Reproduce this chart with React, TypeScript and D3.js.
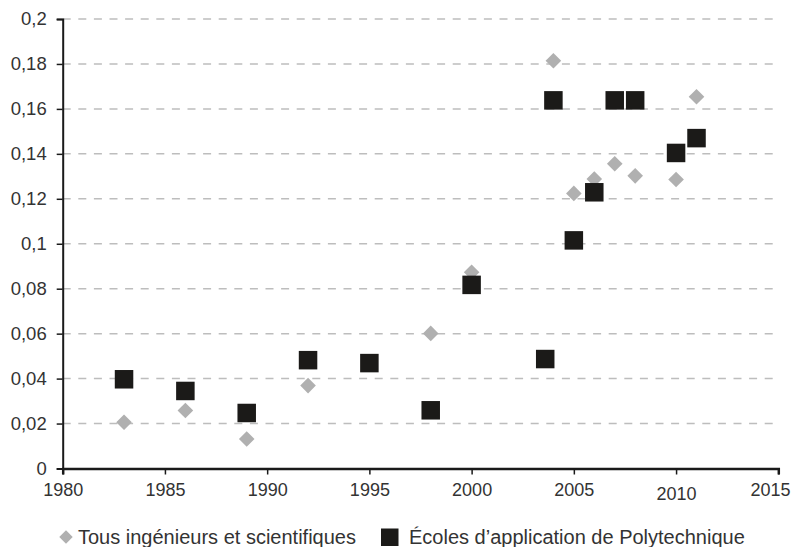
import { useEffect, useRef } from 'react';
import * as d3 from 'd3';

// Tous ingénieurs et scientifiques (gray diamonds)
const allYears = [1983, 1986, 1989, 1992, 1998, 2000, 2004, 2005, 2006, 2007, 2008, 2010, 2011];
const allValues = [0.0206, 0.0258, 0.0131, 0.0369, 0.0601, 0.0873, 0.1814, 0.1224, 0.1288, 0.1356, 0.1302, 0.1286, 0.1654];

// Écoles d'application de Polytechnique (black squares)
const xYears = [1983, 1986, 1989, 1992, 1995, 1998, 2000, 2003.6, 2004, 2005, 2006, 2007, 2008, 2010, 2011];
const xValues = [0.0397, 0.0345, 0.0247, 0.0482, 0.0469, 0.0259, 0.0817, 0.0487, 0.1638, 0.1015, 0.1229, 0.1638, 0.1638, 0.1404, 0.147];

const xTicks = [1980, 1985, 1990, 1995, 2000, 2005, 2010, 2015];
const yTicks = [0, 0.02, 0.04, 0.06, 0.08, 0.1, 0.12, 0.14, 0.16, 0.18, 0.2];

const seriesNames = ['Tous ingénieurs et scientifiques', 'Écoles d\u2019application de Polytechnique'];

const W = 791;
const H = 547;

export default function App() {
  const svgRef = useRef<SVGSVGElement>(null);

  useEffect(() => {
    if (!svgRef.current) return;
    const svg = d3.select(svgRef.current);
    svg.selectAll('*').remove();

    const left = 62.7;
    const right = 778.3;
    const top = 19;
    const bottom = 468.5;

    const x = d3.scaleLinear().domain([1980, 2015]).range([left, right]);
    const y = d3.scaleLinear().domain([0, 0.2]).range([bottom, top]);

    const fmt = (v: number) => (v === 0 ? '0' : String(+v.toFixed(2)).replace('.', ','));

    // gridlines
    svg.append('g')
      .selectAll('line')
      .data(yTicks.filter(t => t > 0))
      .enter()
      .append('line')
      .attr('x1', left)
      .attr('x2', right)
      .attr('y1', d => y(d))
      .attr('y2', d => y(d))
      .attr('stroke', '#bdbdbd')
      .attr('stroke-width', 1.5)
      .attr('stroke-dasharray', '8,7.6');

    // y axis
    const yAxis = svg.append('g')
      .attr('transform', `translate(${left},0)`)
      .call(d3.axisLeft(y).tickValues(yTicks).tickSize(6).tickPadding(10).tickFormat(d => fmt(+d)));
    yAxis.select('.domain').attr('stroke', '#1a1a1a').attr('stroke-width', 2);
    yAxis.selectAll('line').attr('stroke', '#1a1a1a').attr('stroke-width', 1.5);
    yAxis.selectAll('text')
      .attr('font-family', '"Liberation Sans", Arial, sans-serif')
      .attr('font-size', 18.5)
      .attr('fill', '#333');

    // x axis
    const xAxis = svg.append('g')
      .attr('transform', `translate(0,${bottom})`)
      .call(d3.axisBottom(x).tickValues(xTicks).tickSize(6).tickPadding(7).tickFormat(d3.format('d')));
    xAxis.select('.domain').attr('stroke', '#1a1a1a').attr('stroke-width', 2.5);
    xAxis.selectAll('line').attr('stroke', '#1a1a1a').attr('stroke-width', 1.5);
    xAxis.selectAll('text')
      .attr('font-family', '"Liberation Sans Narrow", "Arial Narrow", sans-serif')
      .attr('font-size', 18)
      .attr('fill', '#333')
      .attr('dy', (d: any) => (d === 2010 ? '1.0em' : '0.78em'));
    // last label sits flush against the right edge, as in the original
    xAxis.selectAll<SVGTextElement, number>('text')
      .filter(d => d === 2015)
      .attr('text-anchor', 'end')
      .attr('x', W - 1 - right);

    // diamonds
    const dia = d3.symbol().type(d3.symbolSquare).size(122);
    svg.append('g')
      .selectAll('path')
      .data(allYears.map((yr, i) => ({ yr, v: allValues[i] })))
      .enter()
      .append('path')
      .attr('d', dia)
      .attr('transform', d => `translate(${x(d.yr)},${y(d.v)}) rotate(45)`)
      .attr('fill', '#b0b0b0');

    // squares
    const sq = 18.5;
    svg.append('g')
      .selectAll('rect')
      .data(xYears.map((yr, i) => ({ yr, v: xValues[i] })))
      .enter()
      .append('rect')
      .attr('x', d => x(d.yr) - sq / 2)
      .attr('y', d => y(d.v) - sq / 2)
      .attr('width', sq)
      .attr('height', sq)
      .attr('fill', '#1b1a18');

    // legend
    const lg = svg.append('g');
    lg.append('path')
      .attr('d', d3.symbol().type(d3.symbolSquare).size(90))
      .attr('transform', 'translate(66,537) rotate(45)')
      .attr('fill', '#b0b0b0');
    lg.append('text')
      .attr('x', 78)
      .attr('y', 544)
      .attr('font-family', '"Liberation Sans", Arial, sans-serif')
      .attr('font-size', 20)
      .attr('fill', '#333')
      .text(seriesNames[0]);
    lg.append('rect')
      .attr('x', 381)
      .attr('y', 528.5)
      .attr('width', 17.5)
      .attr('height', 17.5)
      .attr('fill', '#1b1a18');
    lg.append('text')
      .attr('x', 409)
      .attr('y', 544)
      .attr('font-family', '"Liberation Sans", Arial, sans-serif')
      .attr('font-size', 20)
      .attr('fill', '#333')
      .text(seriesNames[1]);
  }, []);

  return (
    <svg
      ref={svgRef}
      width={W}
      height={H}
      style={{ position: 'absolute', left: 0, top: 0, background: '#fff' }}
    />
  );
}
